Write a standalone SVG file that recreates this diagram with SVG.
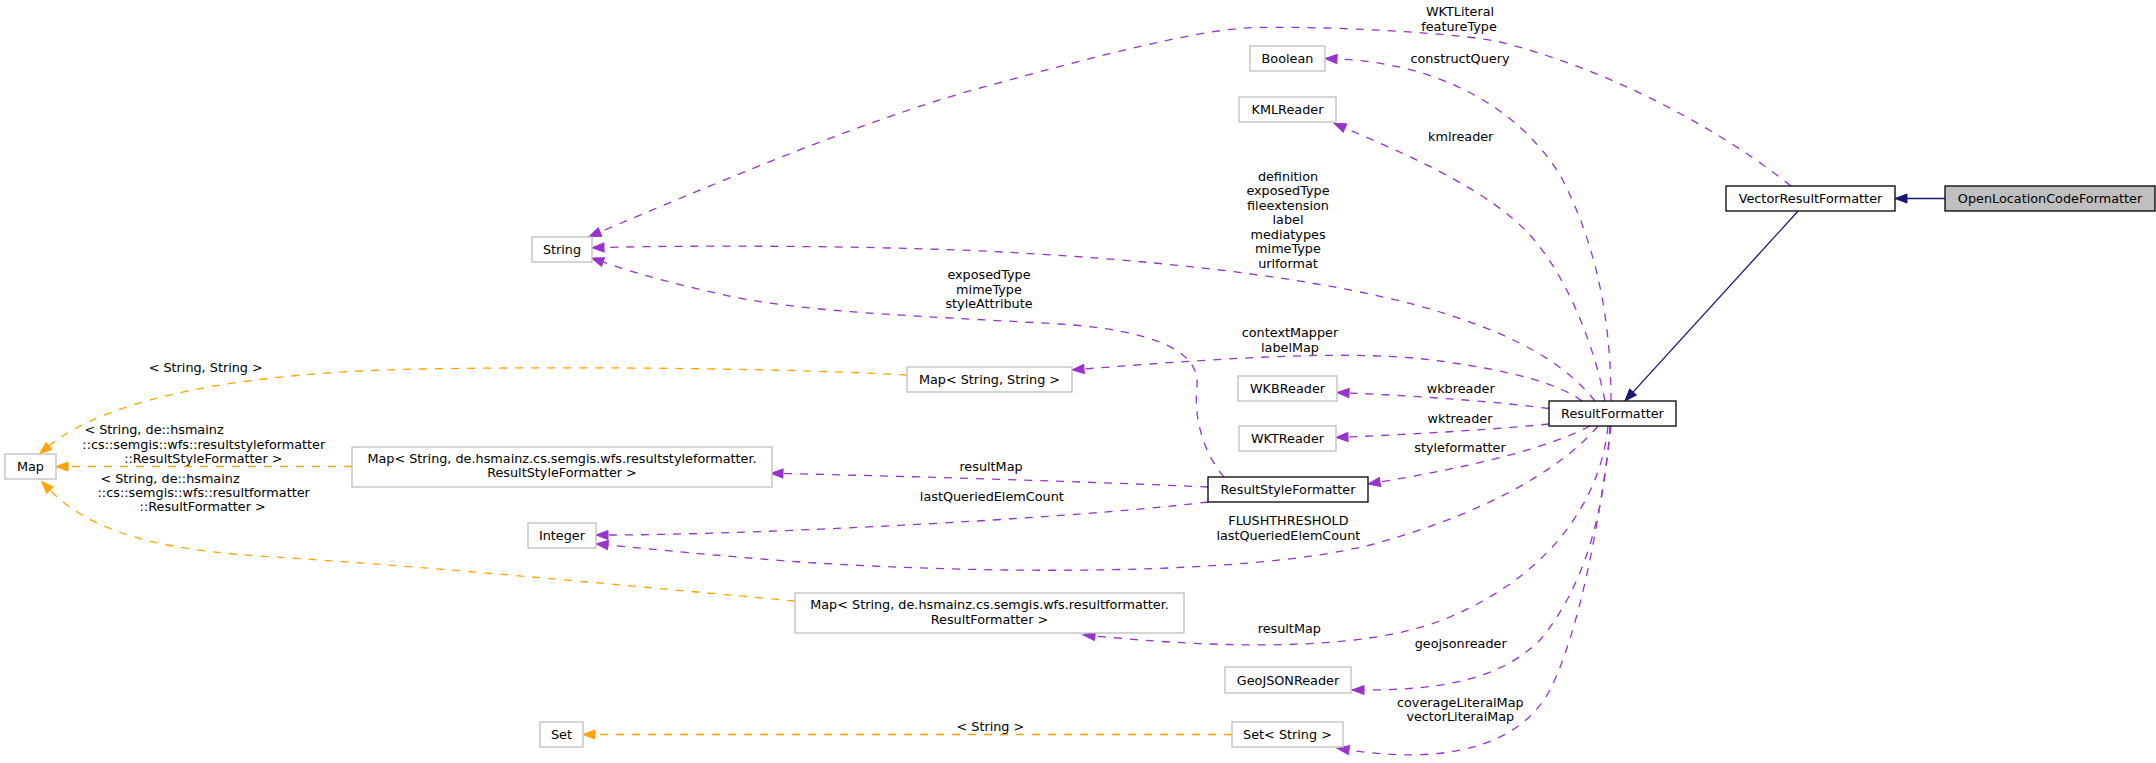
<svg xmlns="http://www.w3.org/2000/svg" width="2156" height="763" viewBox="0 0 2156 763">
<style>
text{font-family:"DejaVu Sans","Liberation Sans",sans-serif;font-size:12.8px;fill:#000;text-anchor:middle}
.n rect{fill:#fff;stroke:#bfbfbf;stroke-width:1.3}
.n.doc rect{stroke:#000}
.n.cur rect{fill:#bfbfbf;stroke:#000}
.e{fill:none;stroke-width:1.3}
.u{stroke:#9a32cd;stroke-dasharray:8,8}
.t{stroke:#ffa500;stroke-dasharray:8,8}
.i{stroke:#191970}
</style>
<defs>
<marker id="ap" markerUnits="userSpaceOnUse" markerWidth="13" markerHeight="10" viewBox="0 0 13 10" refX="0" refY="5" orient="auto" overflow="visible"><path d="M0,0.5 L12,5 L0,9.5 z" fill="#9a32cd" stroke="#9a32cd" stroke-width="1"/></marker>
<marker id="ao" markerUnits="userSpaceOnUse" markerWidth="13" markerHeight="10" viewBox="0 0 13 10" refX="0" refY="5" orient="auto" overflow="visible"><path d="M0,0.5 L12,5 L0,9.5 z" fill="#ffa500" stroke="#ffa500" stroke-width="1"/></marker>
<marker id="an" markerUnits="userSpaceOnUse" markerWidth="13" markerHeight="10" viewBox="0 0 13 10" refX="0" refY="5" orient="auto" overflow="visible"><path d="M0,0.5 L12,5 L0,9.5 z" fill="#191970" stroke="#191970" stroke-width="1"/></marker>
</defs>
<rect width="2156" height="763" fill="#fff"/>
<g id="connectors">
<path class="e i" d="M1945,198.5 L1907,198.5" marker-end="url(#an)"/>
<path class="e i" d="M1797.7,211.5 L1633,392.1" marker-end="url(#an)"/>
<path class="e u" d="M1791,186 C1730,137 1620,72 1500,42 C1460,33 1330,26 1255,27.5 C1200,29 1100,55 980,88 C860,121 700,190 600,232" marker-end="url(#ap)"/>
<path class="e u" d="M1611,401 C1611,330 1600,250 1560,175 C1510,95 1420,62 1337,59" marker-end="url(#ap)"/>
<path class="e u" d="M1605,401 C1595,350 1570,280 1530,235 C1490,192 1420,160 1345,128" marker-end="url(#ap)"/>
<path class="e u" d="M1595,401 C1570,370 1530,340 1440,312 C1330,278 1150,258 960,250 C850,246 700,245 604,247.5" marker-end="url(#ap)"/>
<path class="e u" d="M1582,401 C1560,385 1520,372 1440,361 C1360,350 1250,356 1084,369" marker-end="url(#ap)"/>
<path class="e u" d="M1549,408.5 C1500,402 1420,396 1349,393" marker-end="url(#ap)"/>
<path class="e u" d="M1549,424 C1500,429 1420,434 1348,437" marker-end="url(#ap)"/>
<path class="e u" d="M1590,426 C1560,442 1500,462 1380,482" marker-end="url(#ap)"/>
<path class="e u" d="M1598,426 C1570,460 1500,510 1370,545 C1250,575 1000,575 800,562 C720,556 650,549 608,545" marker-end="url(#ap)"/>
<path class="e u" d="M1608,426 C1602,490 1560,570 1450,617 C1380,647 1260,652 1095,636" marker-end="url(#ap)"/>
<path class="e u" d="M1610,426 C1605,500 1590,580 1540,640 C1500,680 1440,690 1364,690" marker-end="url(#ap)"/>
<path class="e u" d="M1611,426 C1600,520 1580,630 1550,690 C1520,745 1450,765 1349,750" marker-end="url(#ap)"/>
<path class="e u" d="M1224,477 C1205,455 1193,420 1197,385 C1200,350 1150,330 1060,324 C900,315 800,312 720,294 C680,285 640,275 603,262" marker-end="url(#ap)"/>
<path class="e u" d="M1208,502 C1100,515 900,527 720,533 C680,534 640,535 608,535" marker-end="url(#ap)"/>
<path class="e u" d="M1208,487 C1100,482 900,476 783,473.5" marker-end="url(#ap)"/>
<path class="e t" d="M907,375 C800,369 600,366 420,369 C250,372 110,396 49,446" marker-end="url(#ao)"/>
<path class="e t" d="M352,466.5 L68,466.5" marker-end="url(#ao)"/>
<path class="e t" d="M795,601 C650,588 450,568 275,557 C170,551 95,536 50,490" marker-end="url(#ao)"/>
<path class="e t" d="M1232,734.5 L595,734.5" marker-end="url(#ao)"/>
<g id="edge-labels">
<text x="1460" y="16.2">WKTLiteral</text>
<text x="1459" y="31.2">featureType</text>
<text x="1460" y="63.2">constructQuery</text>
<text x="1460.7" y="141.2">kmlreader</text>
<text x="1288" y="180.5">definition</text>
<text x="1288" y="195">exposedType</text>
<text x="1288" y="209.6">fileextension</text>
<text x="1288" y="224.1">label</text>
<text x="1288" y="238.7">mediatypes</text>
<text x="1288" y="253.2">mimeType</text>
<text x="1288" y="267.8">urlformat</text>
<text x="989" y="279">exposedType</text>
<text x="989" y="293.5">mimeType</text>
<text x="989" y="308">styleAttribute</text>
<text x="1290" y="337.2">contextMapper</text>
<text x="1290" y="351.8">labelMap</text>
<text x="205.7" y="371.8">&lt; String, String &gt;</text>
<text x="1460.7" y="392.8">wkbreader</text>
<text x="1460" y="422.8">wktreader</text>
<text x="1460" y="451.8">styleformatter</text>
<text x="991" y="471.2">resultMap</text>
<text x="991.8" y="500.8">lastQueriedElemCount</text>
<text x="1288.4" y="525.2">FLUSHTHRESHOLD</text>
<text x="1288.4" y="539.8">lastQueriedElemCount</text>
<text x="1289.3" y="633.2">resultMap</text>
<text x="1460.7" y="647.8">geojsonreader</text>
<text x="1460.3" y="707.2">coverageLiteralMap</text>
<text x="1460.3" y="721.2">vectorLiteralMap</text>
<text x="990.4" y="731.2">&lt; String &gt;</text>
<text x="154" y="433.5">&lt; String, de::hsmainz</text>
<text x="203.8" y="448.5">::cs::semgis::wfs::resultstyleformatter</text>
<text x="203.3" y="463.2">::ResultStyleFormatter &gt;</text>
<text x="170" y="482.8">&lt; String, de::hsmainz</text>
<text x="203.7" y="497.2">::cs::semgis::wfs::resultformatter</text>
<text x="202.7" y="511.2">::ResultFormatter &gt;</text>
</g>
</g>
<g id="node-OpenLocationCodeFormatter" class="n cur"><rect x="1945" y="186" width="210" height="25"/><text x="2050" y="203">OpenLocationCodeFormatter</text></g>
<g id="node-VectorResultFormatter" class="n doc"><rect x="1726" y="186" width="169" height="25"/><text x="1810.5" y="203">VectorResultFormatter</text></g>
<g id="node-ResultFormatter" class="n doc"><rect x="1549" y="401" width="127" height="25"/><text x="1612.5" y="418">ResultFormatter</text></g>
<g id="node-ResultStyleFormatter" class="n doc"><rect x="1208" y="477" width="160" height="25"/><text x="1288" y="494">ResultStyleFormatter</text></g>
<g id="node-String" class="n"><rect x="532" y="237" width="60" height="25"/><text x="562" y="254">String</text></g>
<g id="node-Boolean" class="n"><rect x="1250" y="46" width="75" height="25"/><text x="1287.5" y="63">Boolean</text></g>
<g id="node-KMLReader" class="n"><rect x="1239" y="97" width="97" height="25"/><text x="1287.5" y="114">KMLReader</text></g>
<g id="node-MapStringString" class="n"><rect x="907" y="367" width="165" height="25"/><text x="989.5" y="384">Map&lt; String, String &gt;</text></g>
<g id="node-WKBReader" class="n"><rect x="1238" y="376" width="99" height="25"/><text x="1287.5" y="393">WKBReader</text></g>
<g id="node-WKTReader" class="n"><rect x="1239" y="426" width="97" height="25"/><text x="1287.5" y="443">WKTReader</text></g>
<g id="node-Map" class="n"><rect x="5" y="454" width="51" height="25"/><text x="30.5" y="471">Map</text></g>
<g id="node-MapResultStyleFormatter" class="n"><rect x="352" y="447" width="420" height="40"/><text x="562" y="462.8">Map&lt; String, de.hsmainz.cs.semgis.wfs.resultstyleformatter.</text><text x="562" y="476.8">ResultStyleFormatter &gt;</text></g>
<g id="node-Integer" class="n"><rect x="528" y="523" width="68" height="25"/><text x="562" y="540">Integer</text></g>
<g id="node-MapResultFormatter" class="n"><rect x="795" y="593" width="389" height="40"/><text x="989.5" y="608.8">Map&lt; String, de.hsmainz.cs.semgis.wfs.resultformatter.</text><text x="989.5" y="623.5">ResultFormatter &gt;</text></g>
<g id="node-GeoJSONReader" class="n"><rect x="1225" y="667" width="126" height="26"/><text x="1288" y="684.5">GeoJSONReader</text></g>
<g id="node-Set" class="n"><rect x="540" y="722" width="43" height="25"/><text x="561.5" y="739">Set</text></g>
<g id="node-SetString" class="n"><rect x="1232" y="722" width="111" height="25"/><text x="1287.5" y="739">Set&lt; String &gt;</text></g>
</svg>
